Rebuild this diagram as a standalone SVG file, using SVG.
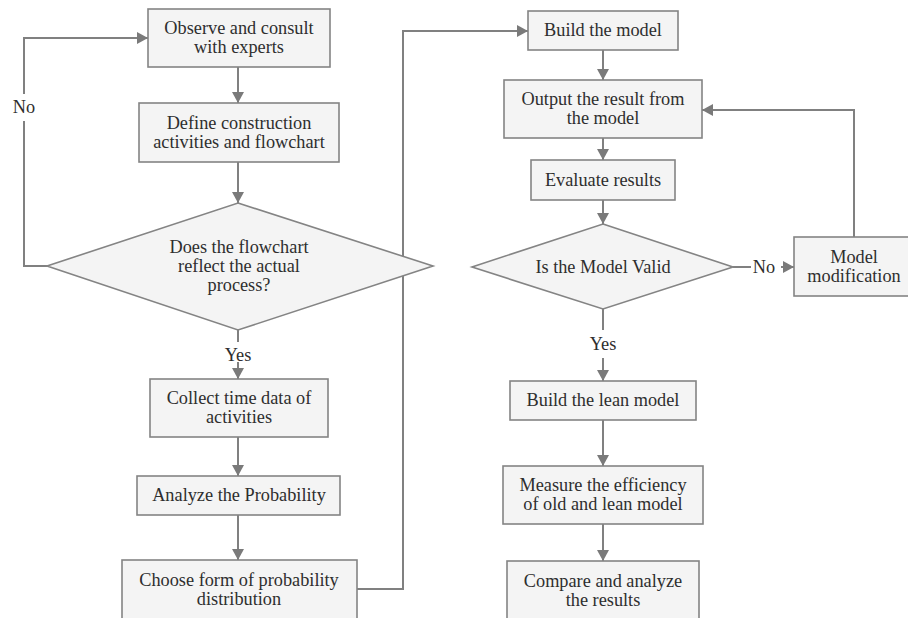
<svg xmlns="http://www.w3.org/2000/svg" width="908" height="618" viewBox="0 0 908 618">
  <style>
    .box { fill: #f4f4f4; stroke: #848484; stroke-width: 1.6; }
    .txt { font-family: "Liberation Serif", "Times New Roman", serif; font-size: 18.3px; fill: #2e2e2e; text-anchor: middle; }
    .conn { fill: none; stroke: #808080; stroke-width: 2; }
    .arr { marker-end: url(#head); }
  </style>
  <defs>
    <marker id="head" markerUnits="userSpaceOnUse" markerWidth="12" markerHeight="12" refX="11" refY="6" orient="auto">
      <path d="M0,0 L11,6 L0,12 Z" fill="#7a7a7a"/>
    </marker>
  </defs>
  <rect width="908" height="618" fill="#ffffff"/>

  <!-- connectors -->
  <g id="connectors">
    <path class="conn arr" d="M238,67 V103"/>
    <path class="conn arr" d="M238,162 V203"/>
    <path class="conn" d="M238,330 V342"/>
    <path class="conn arr" d="M238,362 V379"/>
    <path class="conn arr" d="M238,437 V476"/>
    <path class="conn arr" d="M238,515 V560"/>
    <path class="conn" d="M47,266 H24 V121"/>
    <path class="conn arr" d="M24,94 V38 H148"/>
    <path class="conn arr" d="M357,589 H403 V31 H528"/>
    <path class="conn arr" d="M603,50 V80"/>
    <path class="conn arr" d="M603,138 V160"/>
    <path class="conn arr" d="M603,200 V224"/>
    <path class="conn" d="M603,309 V330"/>
    <path class="conn arr" d="M603,358 V381"/>
    <path class="conn arr" d="M603,420 V466"/>
    <path class="conn arr" d="M603,524 V561"/>
    <path class="conn" d="M733,267 H751"/>
    <path class="conn arr" d="M781,267 H794"/>
    <path class="conn arr" d="M854,237 V110 H702"/>
    <text class="txt" x="24" y="113">No</text>
    <text class="txt" x="238" y="361">Yes</text>
    <text class="txt" x="764" y="273">No</text>
    <text class="txt" x="603" y="350">Yes</text>
  </g>

  <!-- left column -->
  <g id="observe">
    <rect class="box" x="148" y="9" width="182" height="58"/>
    <text class="txt" x="239" y="34">Observe and consult</text>
    <text class="txt" x="239" y="53">with experts</text>
  </g>
  <g id="define">
    <rect class="box" x="139" y="103" width="200" height="59"/>
    <text class="txt" x="239" y="129">Define construction</text>
    <text class="txt" x="239" y="148">activities and flowchart</text>
  </g>
  <g id="check-flowchart">
    <polygon class="box" points="238,203 433,266 238,330 47,266"/>
    <text class="txt" x="239" y="253">Does the flowchart</text>
    <text class="txt" x="239" y="272">reflect the actual</text>
    <text class="txt" x="239" y="291">process?</text>
  </g>
  <g id="collect">
    <rect class="box" x="150" y="379" width="178" height="58"/>
    <text class="txt" x="239" y="404">Collect time data of</text>
    <text class="txt" x="239" y="423">activities</text>
  </g>
  <g id="analyze">
    <rect class="box" x="137" y="476" width="203" height="39"/>
    <text class="txt" x="239" y="501">Analyze the Probability</text>
  </g>
  <g id="choose">
    <rect class="box" x="122" y="560" width="235" height="60"/>
    <text class="txt" x="239" y="586">Choose form of probability</text>
    <text class="txt" x="239" y="605">distribution</text>
  </g>

  <!-- right column -->
  <g id="build">
    <rect class="box" x="528" y="11" width="150" height="39"/>
    <text class="txt" x="603" y="36">Build the model</text>
  </g>
  <g id="output">
    <rect class="box" x="504" y="80" width="198" height="58"/>
    <text class="txt" x="603" y="105">Output the result from</text>
    <text class="txt" x="603" y="124">the model</text>
  </g>
  <g id="evaluate">
    <rect class="box" x="531" y="160" width="144" height="40"/>
    <text class="txt" x="603" y="186">Evaluate results</text>
  </g>
  <g id="valid">
    <polygon class="box" points="603,224 733,267 603,309 472,267"/>
    <text class="txt" x="603" y="273">Is the Model Valid</text>
  </g>
  <g id="modify">
    <rect class="box" x="794" y="237" width="122" height="59"/>
    <text class="txt" x="854" y="263">Model</text>
    <text class="txt" x="854" y="282">modification</text>
  </g>
  <g id="lean">
    <rect class="box" x="510" y="381" width="186" height="39"/>
    <text class="txt" x="603" y="406">Build the lean model</text>
  </g>
  <g id="measure">
    <rect class="box" x="503" y="466" width="200" height="58"/>
    <text class="txt" x="603" y="491">Measure the efficiency</text>
    <text class="txt" x="603" y="510">of old and lean model</text>
  </g>
  <g id="compare">
    <rect class="box" x="507" y="561" width="192" height="60"/>
    <text class="txt" x="603" y="587">Compare and analyze</text>
    <text class="txt" x="603" y="606">the results</text>
  </g>
</svg>
